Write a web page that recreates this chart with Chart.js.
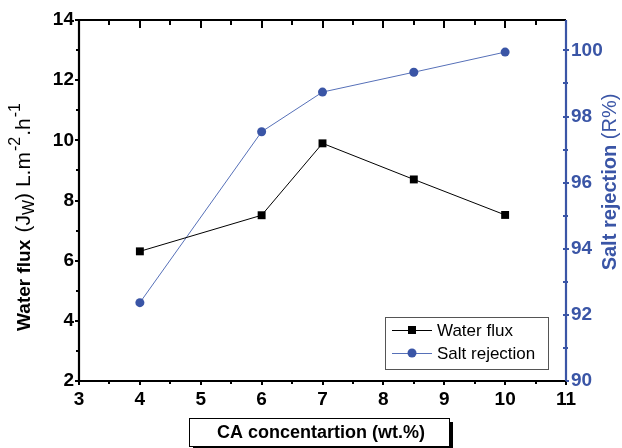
<!DOCTYPE html>
<html><head><meta charset="utf-8">
<script src="https://cdn.jsdelivr.net/npm/chart.js@4"></script>
<style>html,body{margin:0;padding:0;background:#fff}#wrap{width:622px;height:448px;position:relative}</style>
</head><body><div id="wrap"><canvas id="c" width="622" height="448"></canvas></div>
<script>
const caConc = [4, 6, 7, 8.5, 10];
const waterFlux = [6.31, 7.51, 9.9, 8.7, 7.52];
const saltRejection = [92.37, 97.54, 98.74, 99.34, 99.95];
const xTicks = [3, 4, 5, 6, 7, 8, 9, 10, 11];
const fluxTicks = [2, 4, 6, 8, 10, 12, 14];
const rejTicks = [90, 92, 94, 96, 98, 100];

const BLUE = '#3a55a6';
const BLUE_LINE = '#5670b8';
const FONT = '"Liberation Sans", Arial, sans-serif';

function richText(ctx, parts, cx, cy) {
  ctx.save();
  ctx.translate(cx, cy);
  ctx.rotate(-Math.PI / 2);
  ctx.textBaseline = 'alphabetic';
  ctx.textAlign = 'left';
  let total = 0;
  parts.forEach(p => { ctx.font = p.font; p.w = ctx.measureText(p.t).width; total += p.w + (p.gap || 0); });
  let x = -total / 2;
  parts.forEach(p => { ctx.font = p.font; ctx.fillStyle = p.color; ctx.fillText(p.t, x, p.dy || 0); x += p.w + (p.gap || 0); });
  ctx.restore();
}

const decor = {
  id: 'decor',
  beforeDatasetsDraw(chart) {
    const ctx = chart.ctx, a = chart.chartArea;
    const xs = chart.scales.x, yl = chart.scales.yFlux, yr = chart.scales.yRej;
    ctx.save();
    ctx.lineWidth = 2;
    ctx.strokeStyle = '#000';
    for (let v = 3; v <= 11.001; v += 0.5) {
      const px = Math.round(xs.getPixelForValue(v));
      const major = Math.abs(v - Math.round(v)) < 1e-6;
      ctx.beginPath();
      ctx.moveTo(px, a.bottom); ctx.lineTo(px, a.bottom + (major ? 4 : 3));
      ctx.moveTo(px, a.top); ctx.lineTo(px, a.top + (major ? 8 : 5));
      ctx.stroke();
    }
    for (let v = 2; v <= 14; v += 1) {
      const py = Math.round(yl.getPixelForValue(v));
      ctx.beginPath();
      ctx.moveTo(a.left, py); ctx.lineTo(a.left - (v % 2 === 0 ? 4 : 3), py);
      ctx.stroke();
    }
    ctx.strokeStyle = BLUE;
    for (let v = 90; v <= 100.9; v += 1) {
      const py = Math.round(yr.getPixelForValue(v));
      ctx.beginPath();
      ctx.moveTo(a.right - 3, py); ctx.lineTo(a.right + (v % 2 === 0 ? 3 : 2), py);
      ctx.stroke();
    }
    ctx.lineWidth = 2.2;
    ctx.strokeStyle = '#000';
    ctx.beginPath();
    ctx.moveTo(a.left, a.top); ctx.lineTo(a.right, a.top);
    ctx.moveTo(a.left, a.top); ctx.lineTo(a.left, a.bottom); ctx.lineTo(a.right, a.bottom);
    ctx.stroke();
    ctx.strokeStyle = BLUE;
    ctx.beginPath();
    ctx.moveTo(a.right, a.top); ctx.lineTo(a.right, a.bottom);
    ctx.stroke();
    ctx.restore();
  },
  afterDraw(chart) {
    const ctx = chart.ctx;
    ctx.save();
    richText(ctx, [
      {t: 'Water flux ', font: 'bold 19px ' + FONT, color: '#000', gap: 2},
      {t: '(J', font: '21px ' + FONT, color: '#000'},
      {t: 'W', font: '16px ' + FONT, color: '#000', dy: 4},
      {t: ') L.m', font: '21px ' + FONT, color: '#000', gap: 1},
      {t: '-2', font: '16px ' + FONT, color: '#000', dy: -10, gap: 1},
      {t: '.h', font: '21px ' + FONT, color: '#000', gap: 1},
      {t: '-1', font: '16px ' + FONT, color: '#000', dy: -10}
    ], 30, 217);
    richText(ctx, [
      {t: 'Salt rejection ', font: 'bold 20px ' + FONT, color: BLUE},
      {t: '(R%)', font: '20px ' + FONT, color: BLUE}
    ], 616, 182);
    const bx = 189, by = 418, bw = 260, bh = 28;
    ctx.fillStyle = '#000';
    ctx.fillRect(bx + 4, by + 4, bw, bh);
    ctx.fillStyle = '#fff';
    ctx.fillRect(bx, by, bw, bh);
    ctx.strokeStyle = '#000'; ctx.lineWidth = 1;
    ctx.strokeRect(bx + 0.5, by + 0.5, bw, bh);
    ctx.fillStyle = '#000';
    ctx.font = 'bold 18px ' + FONT;
    ctx.textAlign = 'center'; ctx.textBaseline = 'middle';
    ctx.fillText('CA concentartion (wt.%)', bx + bw / 2 + 2, by + bh / 2 + 1);
    const lx = 385, ly = 317, lw = 163, lh = 52;
    ctx.fillStyle = '#fff'; ctx.fillRect(lx, ly, lw, lh);
    ctx.strokeStyle = '#555'; ctx.lineWidth = 1;
    ctx.strokeRect(lx + 0.5, ly + 0.5, lw, lh);
    const ds = chart.data.datasets;
    const rows = [330, 353];
    ds.forEach((d, i) => {
      const y = rows[i];
      ctx.strokeStyle = d.borderColor; ctx.lineWidth = 1;
      ctx.beginPath(); ctx.moveTo(392, y + 0.5); ctx.lineTo(432, y + 0.5); ctx.stroke();
      ctx.fillStyle = d.pointBackgroundColor;
      if (d.pointStyle === 'rect') { ctx.fillRect(408, y - 4, 8, 8); }
      else { ctx.beginPath(); ctx.arc(412, y, 4.5, 0, Math.PI * 2); ctx.fill(); }
      ctx.fillStyle = '#000';
      ctx.font = '17px ' + FONT; ctx.textAlign = 'left'; ctx.textBaseline = 'middle';
      ctx.fillText(d.label, 437, y + 1);
    });
    ctx.restore();
  }
};

new Chart(document.getElementById('c'), {
  type: 'line',
  data: {
    datasets: [
      {
        label: 'Water flux',
        data: caConc.map((x, i) => ({x, y: waterFlux[i]})),
        yAxisID: 'yFlux',
        borderColor: '#000', backgroundColor: '#000',
        pointBackgroundColor: '#000', pointBorderColor: '#000',
        borderWidth: 1, pointStyle: 'rect', pointRadius: 5.6, pointBorderWidth: 0
      },
      {
        label: 'Salt rejection',
        data: caConc.map((x, i) => ({x, y: saltRejection[i]})),
        yAxisID: 'yRej',
        borderColor: BLUE_LINE, backgroundColor: BLUE,
        pointBackgroundColor: BLUE, pointBorderColor: BLUE,
        borderWidth: 1, pointStyle: 'circle', pointRadius: 4.5, pointBorderWidth: 0
      }
    ]
  },
  options: {
    responsive: false, animation: false,
    layout: {padding: {top: 20, left: 0, right: 0, bottom: 0}},
    plugins: {legend: {display: false}, tooltip: {enabled: false}},
    scales: {
      x: {
        type: 'linear', min: 3, max: 11,
        afterBuildTicks: s => { s.ticks = xTicks.map(v => ({value: v})); },
        afterFit: s => { s.height = 67; },
        grid: {display: false, drawTicks: false}, border: {display: false},
        ticks: {padding: 7, color: '#000', font: {family: FONT, size: 19, weight: 'bold'}}
      },
      yFlux: {
        type: 'linear', position: 'left', min: 2, max: 14,
        afterBuildTicks: s => { s.ticks = fluxTicks.map(v => ({value: v})); },
        afterFit: s => { s.width = 79; },
        grid: {display: false, drawTicks: false}, border: {display: false},
        ticks: {padding: 5, color: '#000', font: {family: FONT, size: 19, weight: 'bold'}}
      },
      yRej: {
        type: 'linear', position: 'right', min: 90, max: 100.92,
        afterBuildTicks: s => { s.ticks = rejTicks.map(v => ({value: v})); },
        afterFit: s => { s.width = 56; },
        grid: {display: false, drawTicks: false}, border: {display: false},
        ticks: {padding: 5, color: BLUE, font: {family: FONT, size: 19, weight: 'bold'}}
      }
    }
  },
  plugins: [decor]
});
</script></body></html>
